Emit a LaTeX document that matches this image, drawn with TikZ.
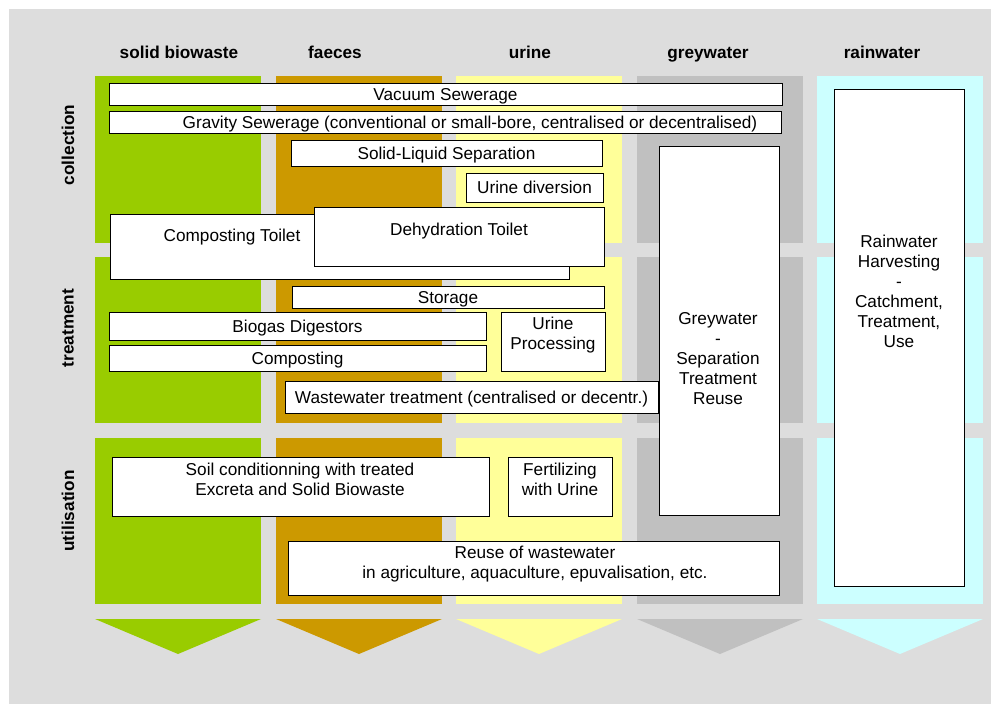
\documentclass[tikz,border=0pt]{standalone}
\usepackage{fontspec}
\setmainfont{Liberation Sans}
\definecolor{bgc}{HTML}{DDDDDD}
\definecolor{cgreen}{HTML}{99CC00}
\definecolor{cbrown}{HTML}{CC9900}
\definecolor{cyellow}{HTML}{FFFF99}
\definecolor{cgrey}{HTML}{C0C0C0}
\definecolor{ccyan}{HTML}{CCFFFF}
\begin{document}
\begin{tikzpicture}[x=1pt,y=-1pt,
  every node/.style={font=\fontsize{17.2}{20}\selectfont},
  box/.style={draw=black, line width=0.8pt, fill=white, inner sep=0pt, anchor=center, text depth=0pt},
  lbl/.style={inner sep=0pt, align=center, anchor=center},
  lbl1/.style={inner sep=0pt, anchor=center, text depth=0pt},
  head/.style={inner sep=0pt, anchor=base, font=\fontsize{17.2}{20}\selectfont\bfseries},
  rowhead/.style={inner sep=0pt, rotate=90, font=\fontsize{17.2}{20}\selectfont\bfseries}]
\useasboundingbox (0,0) rectangle (991,704);
\fill[white] (0,0) rectangle (991,704);
\fill[bgc] (9,9) rectangle (991,704);
% columns
\foreach \xa/\xb/\c in {95/261/cgreen,276/442/cbrown,456/622/cyellow,637/803/cgrey,817/983/ccyan}{
  \fill[\c] (\xa,76) rectangle (\xb,243);
  \fill[\c] (\xa,257) rectangle (\xb,423);
  \fill[\c] (\xa,438) rectangle (\xb,604);
  \fill[\c] (\xa,619) -- (\xb,619) -- ({(\xa+\xb)/2},654) -- cycle;
}
% headers
\node[head] (h1) at (179,58) {solid biowaste};
\node[head] (h2) at (335,58) {faeces};
\node[head] (h3) at (530,58) {urine};
\node[head] (h4) at (708,58) {greywater};
\node[head] (h5) at (882,58) {rainwater};
\node[rowhead] (r1) at (68,145) {collection};
\node[rowhead] (r2) at (68,328) {treatment};
\node[rowhead] (r3) at (68,511) {utilisation};
% boxes
\node[box, minimum width=673pt, minimum height=22pt] (vac) at (445.5,94) {Vacuum Sewerage};
\node[box, minimum width=672pt, minimum height=22pt] (grav) at (445,122) {};
\node[lbl1] (gravt) at (470,122) {Gravity Sewerage (conventional or small-bore, centralised or decentralised)};
\node[box, minimum width=311pt, minimum height=26pt] (sls) at (446.5,153) {Solid-Liquid Separation};
\node[box, minimum width=137pt, minimum height=29pt] (udiv) at (534.5,187.5) {Urine diversion};
\node[box, minimum width=459pt, minimum height=65pt] (ctoil) at (339.5,246.5) {};
\node[lbl1] (ctoilt) at (232,235) {Composting Toilet};
\node[box, minimum width=290pt, minimum height=59pt] (dtoil) at (459,236.5) {};
\node[lbl1] (dtoilt) at (459,229) {Dehydration Toilet};
\node[box, minimum width=312pt, minimum height=22pt] (stor) at (448,297) {Storage};
\node[box, minimum width=377pt, minimum height=28pt] (bio) at (297.5,326) {Biogas Digestors};
\node[box, minimum width=377pt, minimum height=26pt] (comp) at (297.5,358) {Composting};
\node[box, minimum width=104pt, minimum height=59pt] (uproc) at (553,341.5) {};
\node[lbl] (uproct) at (553,335) {Urine\\Processing};
\node[box, minimum width=373pt, minimum height=32pt] (wwt) at (471.5,397) {Wastewater treatment (centralised or decentr.)};
\node[box, minimum width=120pt, minimum height=369pt] (grey) at (719,330.5) {};
\node[lbl] (greyt) at (718,359) {Greywater\\-\\Separation\\Treatment\\Reuse};
\node[box, minimum width=130pt, minimum height=497pt] (rain) at (899,337.5) {};
\node[lbl] (raint) at (899,291) {Rainwater\\Harvesting\\-\\Catchment,\\Treatment,\\Use};
\node[box, minimum width=377pt, minimum height=59pt] (soil) at (300.5,486.5) {};
\node[lbl] (soilt) at (300,479) {Soil conditionning with treated\\Excreta and Solid Biowaste};
\node[box, minimum width=104pt, minimum height=59pt] (fert) at (560,486.5) {};
\node[lbl] (fertt) at (560,479) {Fertilizing\\with Urine};
\node[box, minimum width=491pt, minimum height=54pt] (reuse) at (533.5,568) {};
\node[lbl] (reuset) at (535,564) {Reuse of wastewater\\in agriculture, aquaculture, epuvalisation, etc.};
\end{tikzpicture}
\end{document}
